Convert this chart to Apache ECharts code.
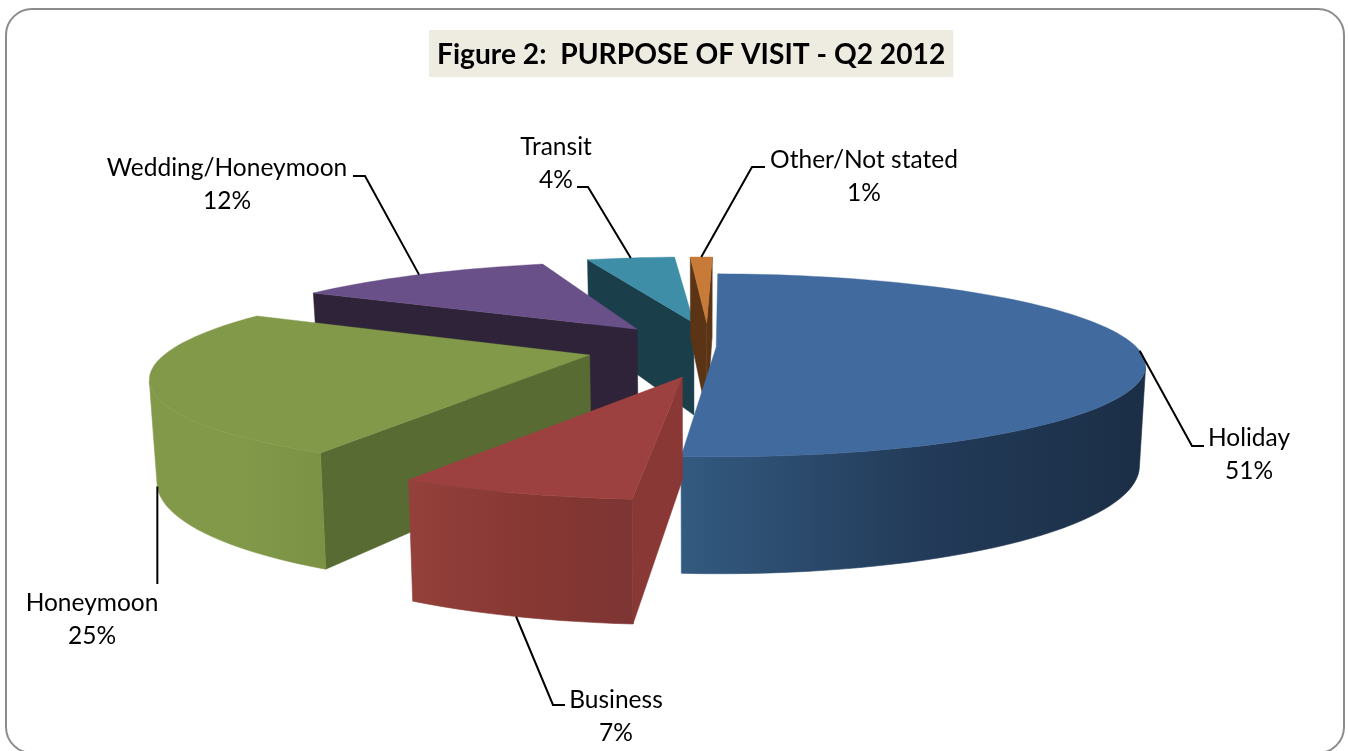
<!DOCTYPE html>
<html>
<head>
<meta charset="utf-8">
<title>Purpose of visit</title>
<script src="https://cdn.jsdelivr.net/npm/echarts@6/dist/echarts.min.js"></script>
<style>
  html, body { margin: 0; padding: 0; background: #ffffff; }
  #chart { width: 1348px; height: 751px; }
</style>
</head>
<body>
<div id="chart"></div>
<script>
// Survey shares, clockwise from the top of the pie
const categories = ['Holiday', 'Business', 'Honeymoon', 'Wedding/Honeymoon', 'Transit', 'Other/Not stated'];
const values = [51, 7, 25, 12, 4, 1];
const chartTitle = 'Figure 2:  PURPOSE OF VISIT - Q2 2012';

// Slice colours
const topColors = ['#416b9e', '#9c413f', '#82994a', '#6a5088', '#3d8ea6', '#c87a38'];
const wallColors = ['#2c4a6e', '#8a3836', '#586b32', '#2e2339', '#1b3e4b', '#5a3415'];
const rimStops = [
  ['#335a80', '#233c5a', '#1b2e46'],
  ['#94403b', '#883833', '#7d3533'],
  ['#82994a', '#82994a', '#7b9245'],
  ['#2e2339', '#2e2339', '#2e2339'],
  ['#1b3e4b', '#1b3e4b', '#1b3e4b'],
  ['#5a3415', '#5a3415', '#5a3415']
];

// Per-slice explosion in plan units of the pie radius: [sideways, towards viewer]
const sliceShift = [[0.03, 0], [-0.044, 0.32], [-0.253, 0.09], [-0.156, -0.21], [-0.022, -0.29], [0.009, -0.29]];
// Per-slice plan radius: [sideways, towards viewer]
const sliceRadius = [[0.955, 1], [0.945, 0.97], [0.95, 1], [0.98, 1], [1, 1], [1, 1]];
// Small per-slice turn about its own apex, in degrees; the sweep stays proportional to the value
const sliceTurn = [-0.4, 0, -1.7, -0.4, -0.8, 0];
// Back slices are painted first
const paintRank = [5, 6, 4, 3, 1, 2];

// Camera used for the tilted pie
const view = { cx: 703, cy: 347, radius: 440, depth: 87.8, perspective: 0.2, baseShrink: 0.986, wallBase: 15, wallGrow: 81.6 };
const startAngle = 1;

// Callout layout: label centre, then the bends of the leader after it leaves the slice
// (a null x keeps the leader vertical below its anchor)
const labelCentre = [[1249, 455], [616, 717], [92, 620], [227, 185], [556, 164], [864, 177]];
const leaderBends = [
  [[1192, 446], [1204, 446]],
  [[553, 705], [565, 705]],
  [[null, 584]],
  [[365, 176], [353, 176]],
  [[588, 187], [577, 187]],
  [[752, 167], [765, 167]]
];

const total = values.reduce((a, b) => a + b, 0);

function project(px, py) {
  const s = 1 / (1 - view.perspective * py);
  return { x: view.cx + view.radius * px * s, y: view.cy + view.depth * py * s, s };
}
function drop(p) {
  return {
    x: view.cx + (p.x - view.cx) * view.baseShrink,
    y: p.y + view.wallBase + view.wallGrow * p.s
  };
}
function rimPoint(i, deg) {
  const a = (deg + sliceTurn[i]) * Math.PI / 180;
  const r = sliceRadius[i];
  return project(sliceShift[i][0] + r[0] * Math.sin(a), sliceShift[i][1] - r[1] * Math.cos(a));
}
function area(pts) {
  let sum = 0;
  pts.forEach((p, k) => {
    const q = pts[(k + 1) % pts.length];
    sum += p.x * q.y - q.x * p.y;
  });
  return sum / 2;
}
const toXY = pts => pts.map(p => [p.x, p.y]);

function renderSlice(params, api) {
  const i = params.dataIndex;
  const before = values.slice(0, i).reduce((a, b) => a + b, 0);
  const a0 = startAngle + before / total * 360;
  const a1 = a0 + api.value(0) / total * 360;
  const steps = Math.max(2, Math.ceil((a1 - a0) / 2));
  const rim = [];
  for (let k = 0; k <= steps; k++) rim.push(rimPoint(i, a0 + (a1 - a0) * k / steps));
  const apex = project(sliceShift[i][0], sliceShift[i][1]);
  const z2 = paintRank[i] * 10;
  const children = [];

  // Radial walls: the leading one shows when it winds anticlockwise on screen
  const wallA = [apex, rim[0], drop(rim[0]), drop(apex)];
  const wallB = [apex, rim[steps], drop(rim[steps]), drop(apex)];
  [[wallA, area(wallA) < 0], [wallB, area(wallB) > 0]].forEach(([quad, show]) => {
    if (show) {
      children.push({
        type: 'polygon', z2, shape: { points: toXY(quad) },
        style: { fill: wallColors[i], stroke: wallColors[i], lineWidth: 0.5 }
      });
    }
  });

  // Outer rim, only the stretch that faces the viewer
  const front = [];
  for (let k = 0; k < steps; k++) {
    const seg = [rim[k], rim[k + 1], drop(rim[k + 1]), drop(rim[k])];
    if (area(seg) < 0) {
      if (!front.length) front.push(rim[k]);
      front.push(rim[k + 1]);
    }
  }
  if (front.length > 1) {
    const stops = rimStops[i];
    const shade = () => new echarts.graphic.LinearGradient(0, 0, 1, 0, [
      { offset: 0, color: stops[0] },
      { offset: 0.5, color: stops[1] },
      { offset: 1, color: stops[2] }
    ]);
    children.push({
      type: 'polygon', z2: z2 + 1,
      shape: { points: toXY(front.concat(front.map(drop).reverse())) },
      style: { fill: shade(), stroke: shade(), lineWidth: 0.6 }
    });
  }

  // Top face
  children.push({
    type: 'polygon', z2: z2 + 2,
    shape: { points: toXY([apex].concat(rim)) },
    style: { fill: topColors[i], stroke: topColors[i], lineWidth: 0.4 }
  });

  return { type: 'group', children };
}

function renderCallout(params, api) {
  const i = params.dataIndex;
  const before = values.slice(0, i).reduce((a, b) => a + b, 0);
  const mid = startAngle + (before + api.value(0) / 2) / total * 360;
  const onRim = rimPoint(i, mid);
  const frontSlice = -Math.cos(mid * Math.PI / 180) > 0.2;
  const anchor = frontSlice ? drop(onRim) : onRim;
  const bends = leaderBends[i].map(b => [b[0] === null ? anchor.x : b[0], b[1]]);
  const path = [[anchor.x, anchor.y]].concat(bends);
  return {
    type: 'group',
    children: [
      {
        type: 'polyline', z2: 100, shape: { points: path },
        style: { stroke: '#000000', lineWidth: 2, fill: null }
      },
      {
        type: 'text', z2: 101, x: labelCentre[i][0], y: labelCentre[i][1],
        style: {
          text: categories[i] + '\n' + api.value(0) + '%',
          font: '24.5px Lato', lineHeight: 33,
          fill: '#000000', align: 'center', verticalAlign: 'middle'
        }
      }
    ]
  };
}

const sliceData = values.map(v => [v]);
const chart = echarts.init(document.getElementById('chart'), null, { renderer: 'canvas' });
chart.setOption({
  animation: false,
  backgroundColor: '#ffffff',
  title: {
    text: chartTitle,
    left: 429, top: 30,
    padding: [10, 8, 8, 8],
    backgroundColor: '#eeece1',
    textStyle: { fontFamily: 'Lato', fontWeight: 'bold', fontSize: 28.2, color: '#000000', lineHeight: 29 }
  },
  graphic: [{
    type: 'rect', z: -1,
    shape: { x: 6, y: 9, width: 1338, height: 744, r: 26 },
    style: { fill: 'none', stroke: '#8c8c8c', lineWidth: 2 }
  }],
  series: [
    { type: 'custom', coordinateSystem: 'none', silent: true, data: sliceData, renderItem: renderSlice },
    { type: 'custom', coordinateSystem: 'none', silent: true, data: sliceData, renderItem: renderCallout }
  ]
});
</script>
</body>
</html>
